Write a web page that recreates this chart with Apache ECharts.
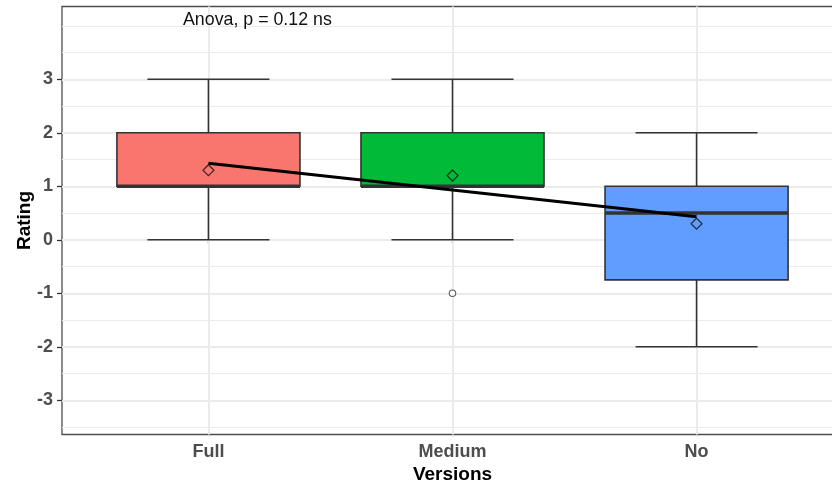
<!DOCTYPE html>
<html>
<head>
<meta charset="utf-8">
<script src="https://cdn.jsdelivr.net/npm/echarts@6/dist/echarts.min.js"></script>
<style>
html,body{margin:0;padding:0;background:#fff;}
#chart{width:832px;height:481px;}
</style>
</head>
<body>
<div id="chart"></div>
<script>
// ---- data ----
var categories = ['Full', 'Medium', 'No'];
var boxFill = ['#F8766D', '#00BA38', '#619CFF'];
var whiskerLow = [0, 0, -2];
var q1 = [1, 1, -0.75];
var median = [1, 1, 0.5];
var q3 = [2, 2, 1];
var whiskerHigh = [3, 3, 2];
var means = [1.3, 1.2, 0.3];
var outlierCats = ['Medium'];
var outlierVals = [-1];
var trend = [1.43, 0.93, 0.43];
var yTicks = [-3, -2, -1, 0, 1, 2, 3];
var yMinorGrid = [-3.5, -2.5, -1.5, -0.5, 0.5, 1.5, 2.5, 3.5, 4];
var annotation = 'Anova, p = 0.12 ns';

var FONT = 'Liberation Sans, Arial, Helvetica, sans-serif';
var xPos = categories.map(function (c, i) { return i + 1; });

var boxData = categories.map(function (c, i) {
  return [i + 1, whiskerLow[i], q1[i], median[i], q3[i], whiskerHigh[i]];
});
var meanData = categories.map(function (c, i) { return [i + 1, means[i]]; });
var trendData = categories.map(function (c, i) { return [i + 1, trend[i]]; });
var outlierData = outlierCats.map(function (c, i) { return [categories.indexOf(c) + 1, outlierVals[i]]; });

var gridLines = [];
yMinorGrid.forEach(function (v) {
  gridLines.push({ yAxis: v, lineStyle: { color: '#EBEBEB', width: 1, type: 'solid' } });
});
yTicks.forEach(function (v) {
  gridLines.push({ yAxis: v, lineStyle: { color: '#EBEBEB', width: 2, type: 'solid' } });
});
xPos.forEach(function (v) {
  gridLines.push({ xAxis: v, lineStyle: { color: '#EBEBEB', width: 2, type: 'solid' } });
});

function renderBox(params, api) {
  var x = api.value(0);
  var lo = api.coord([x, api.value(1)]);
  var b1 = api.coord([x, api.value(2)]);
  var md = api.coord([x, api.value(3)]);
  var b3 = api.coord([x, api.value(4)]);
  var hi = api.coord([x, api.value(5)]);
  var halfBox = api.size([0.375, 0])[0];
  var halfCap = api.size([0.25, 0])[0];
  var stroke = '#333333';
  var lw = 1.6;
  var idx = params.dataIndex;
  return {
    type: 'group',
    children: [
      { type: 'line', shape: { x1: lo[0], y1: lo[1], x2: hi[0], y2: hi[1] }, style: { stroke: stroke, lineWidth: lw } },
      { type: 'line', shape: { x1: lo[0] - halfCap, y1: lo[1], x2: lo[0] + halfCap, y2: lo[1] }, style: { stroke: stroke, lineWidth: lw } },
      { type: 'line', shape: { x1: hi[0] - halfCap, y1: hi[1], x2: hi[0] + halfCap, y2: hi[1] }, style: { stroke: stroke, lineWidth: lw } },
      { type: 'rect', shape: { x: b3[0] - halfBox, y: b3[1], width: halfBox * 2, height: b1[1] - b3[1] },
        style: { fill: boxFill[idx], stroke: stroke, lineWidth: lw } },
      { type: 'line', shape: { x1: md[0] - halfBox, y1: md[1], x2: md[0] + halfBox, y2: md[1] }, style: { stroke: stroke, lineWidth: 3.5 } }
    ]
  };
}

var chart = echarts.init(document.getElementById('chart'), null, { renderer: 'canvas' });
chart.setOption({
  animation: false,
  backgroundColor: '#ffffff',
  title: {
    text: annotation,
    left: 183, top: 11, padding: 0,
    textStyle: { fontFamily: FONT, fontSize: 17.8, fontWeight: 'normal', color: '#111' }
  },
  grid: {
    left: 62, top: 6.5, width: 781, height: 428,
    show: true, borderColor: '#4d4d4d', borderWidth: 1.3, backgroundColor: 'transparent',
    containLabel: false, outerBoundsMode: 'none'
  },
  xAxis: {
    type: 'value', min: 0.4, max: 3.6,
    name: 'Versions', nameLocation: 'middle', nameGap: 31, nameMoveOverlap: false,
    nameTextStyle: { fontFamily: FONT, fontSize: 19, fontWeight: 'bold', color: '#000' },
    axisLine: { show: false },
    axisTick: { show: true, customValues: xPos, length: 4, lineStyle: { color: '#333', width: 1.3 } },
    axisLabel: {
      customValues: xPos, margin: 9,
      formatter: function (v) { return categories[Math.round(v) - 1]; },
      fontFamily: FONT, fontSize: 18, fontWeight: 'bold', color: '#4D4D4D'
    },
    splitLine: { show: false }
  },
  yAxis: {
    type: 'value', min: -3.64, max: 4.36,
    name: 'Rating', nameLocation: 'middle', nameGap: 28, nameRotate: 90, nameMoveOverlap: false,
    nameTextStyle: { fontFamily: FONT, fontSize: 19, fontWeight: 'bold', color: '#000' },
    axisLine: { show: false },
    axisTick: { show: true, customValues: yTicks, length: 5, lineStyle: { color: '#333', width: 1.3 } },
    axisLabel: {
      customValues: yTicks, margin: 9,
      fontFamily: FONT, fontSize: 18, fontWeight: 'bold', color: '#4D4D4D'
    },
    splitLine: { show: false }
  },
  series: [
    {
      type: 'scatter', data: [], z: 1, silent: true,
      markLine: { z: 1, silent: true, symbol: ['none', 'none'], label: { show: false }, animation: false, data: gridLines }
    },
    {
      type: 'custom', renderItem: renderBox, data: boxData, z: 2, silent: true,
      encode: { x: 0, y: [1, 2, 3, 4, 5] }
    },
    {
      type: 'scatter', data: outlierData, z: 3, symbol: 'circle', symbolSize: 6.5,
      itemStyle: { color: '#fff', borderColor: '#333', borderWidth: 1.1 }
    },
    {
      type: 'line', data: trendData, z: 4, symbol: 'none', lineStyle: { color: '#000', width: 3.2 }
    },
    {
      type: 'scatter', data: meanData, z: 5, symbol: 'diamond', symbolSize: 11,
      itemStyle: { color: 'rgba(0,0,0,0)', borderColor: '#111', borderWidth: 1.2 }
    }
  ]
});
</script>
</body>
</html>
